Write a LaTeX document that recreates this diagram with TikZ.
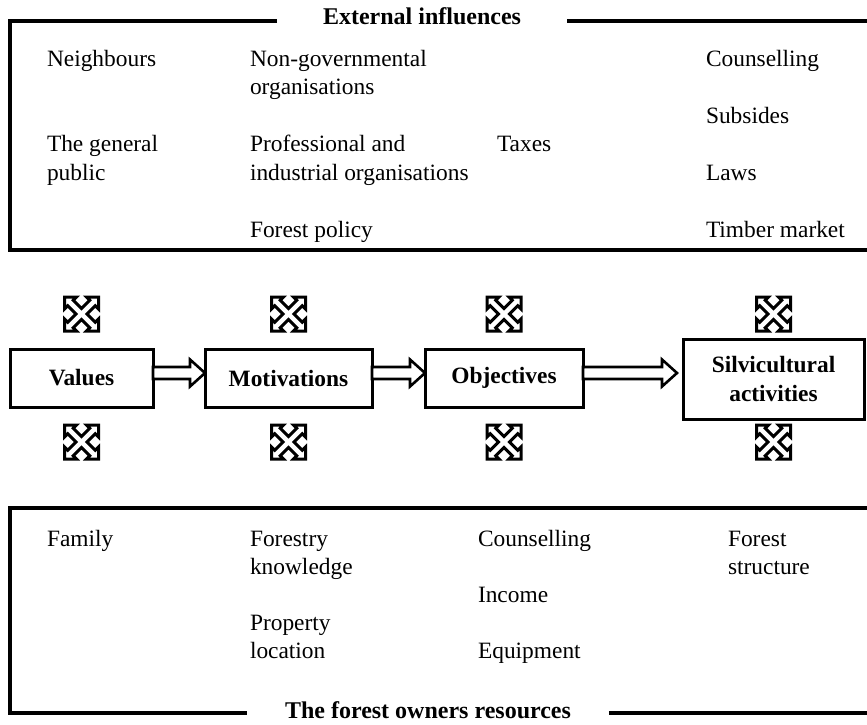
\documentclass[tikz,border=0pt]{standalone}
\usepackage{fontspec}
\setmainfont{Liberation Serif}
\usetikzlibrary{calc}
\newcommand{\txtlines}[1]{\begin{tabular}[t]{@{}l@{}}#1\end{tabular}}
\tikzset{
  every node/.style={inner sep=0pt, outer sep=0pt},
  txt/.style={anchor=base west, font=\fontsize{11.7}{14.25}\selectfont},
  frameline/.style={line width=2pt, line join=miter},
  title/.style={font=\fontsize{12}{14}\selectfont\bfseries, anchor=base},
  stagebox/.style={draw, line width=1.5pt, align=center, font=\fontsize{11.7}{14.25}\selectfont\bfseries},
  arrowline/.style={draw, line width=1.3pt, fill=white, line join=miter},
  iconline/.style={line width=1.5pt, line join=miter},
  moveicon/.pic={
    \draw[iconline, scale=34]
      (-.5,.5) -- (-.15,.5) -- (-.245,.405) -- (0,.16) -- (.245,.405) -- (.15,.5) -- (.5,.5)
      -- (.5,.15) -- (.405,.245) -- (.16,0) -- (.405,-.245) -- (.5,-.15) -- (.5,-.5)
      -- (.15,-.5) -- (.245,-.405) -- (0,-.16) -- (-.245,-.405) -- (-.15,-.5) -- (-.5,-.5)
      -- (-.5,-.15) -- (-.405,-.245) -- (-.16,0) -- (-.405,.245) -- (-.5,.15) -- cycle;
  }
}
% #1 start node, #2 end node, #3 gap before end node
\newcommand{\hollowconn}[3]{%
  \draw[arrowline] let \p1=(#1.east), \p2=(#2.west) in
   (\x1,\y1+5.5pt) -- (\x2-#3-7.5pt,\y1+5.5pt) -- (\x2-#3-7.5pt,\y1+9.25pt) -- (\x2-#3,\y1+2.5pt)
   -- (\x2-#3-7.5pt,\y1-4.25pt) -- (\x2-#3-7.5pt,\y1-0.5pt) -- (\x1,\y1-0.5pt) -- cycle;}
\begin{document}
\begin{tikzpicture}[x=0.5pt,y=-0.5pt]
\useasboundingbox (0,0) rectangle (867,724);

% ---- External influences frame
\node[title, inner xsep=23pt] (ext) at (422,24) {External influences};
\coordinate (ftl) at (10,21);
\coordinate (fbl) at (10,250);
\coordinate (fbr) at (867,250);
\coordinate (ftr) at (867,21);
\draw[frameline] (ext.west |- ftl) -- (ftl) -- (fbl) -- (fbr);
\draw[frameline] (ext.east |- ftr) -- (ftr);

\node[txt] (neigh) at (47,66) {Neighbours};
\node[txt] (public) at (47,151.5) {\txtlines{The general\\public}};
\node[txt] (ngo) at (250,66) {\txtlines{Non-governmental\\organisations}};
\node[txt] (prof) at (250,151.5) {\txtlines{Professional and\\industrial organisations}};
\node[txt] (policy) at (250,237) {Forest policy};
\node[txt] (taxes) at (497,151.5) {Taxes};
\node[txt] (couns1) at (706,66) {Counselling};
\node[txt] (subs) at (706,123) {Subsides};
\node[txt] (laws) at (706,180) {Laws};
\node[txt] (timber) at (706,237) {Timber market};

% ---- Stages
\node[stagebox, minimum width=71.5pt, minimum height=29pt] (values) at (81.5,378) {Values};
\node[stagebox, minimum width=83.5pt, minimum height=29pt] (motiv) at (288.5,378) {Motivations};
\node[stagebox, minimum width=79pt, minimum height=29pt] (obj) at (504,378) {Objectives};
\node[stagebox, minimum width=90.5pt, minimum height=40pt] (silv) at (773.5,379) {Silvicultural\\activities};

\hollowconn{values}{motiv}{0pt}
\hollowconn{motiv}{obj}{0pt}
\hollowconn{obj}{silv}{3pt}

\coordinate (toprow) at (0,314);
\coordinate (botrow) at (0,442);
\foreach \b in {values,motiv,obj,silv}{
  \pic at (\b |- toprow) {moveicon};
  \pic at (\b |- botrow) {moveicon};
}

% ---- Forest owners resources frame
\node[title, inner xsep=19pt] (res) at (428,718) {The forest owners resources};
\coordinate (gtl) at (10,508);
\coordinate (gbl) at (10,713);
\coordinate (gbr) at (867,713);
\coordinate (gtr) at (867,508);
\draw[frameline] (gtr) -- (gtl) -- (gbl) -- (res.west |- gbl);
\draw[frameline] (res.east |- gbr) -- (gbr);

\node[txt] (family) at (47,546) {Family};
\node[txt] (know) at (250,546) {\txtlines{Forestry\\knowledge}};
\node[txt] (prop) at (250,630) {\txtlines{Property\\location}};
\node[txt] (couns2) at (478,546) {Counselling};
\node[txt] (income) at (478,602) {Income};
\node[txt] (equip) at (478,658) {Equipment};
\node[txt] (struct) at (728,546) {\txtlines{Forest\\structure}};
\end{tikzpicture}
\end{document}
